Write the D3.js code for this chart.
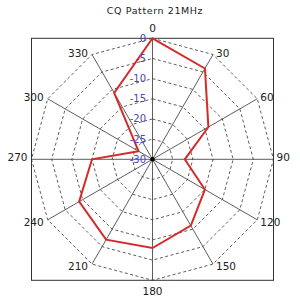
<!DOCTYPE html>
<html>
<head>
<meta charset="utf-8">
<script src="https://cdn.jsdelivr.net/npm/d3@7"></script>
<style>
  html, body { margin: 0; padding: 0; background: #fff; }
  svg { display: block; }
</style>
</head>
<body>
<div id="chart"></div>
<script>
// azimuth of each sample, degrees clockwise from north
const angles = [0, 30, 60, 90, 120, 150, 180, 210, 240, 270, 300, 330];
// relative gain in dB
const gains = [0, -4, -14, -22, -15, -11, -8, -7, -9, -15, -26, -11];
const ringLevels = [0, -5, -10, -15, -20, -25];
const ringLabels = ["0", "-5", "-10", "-15", "-20", "-25", "-30"];
const spokeLabels = ["0", "30", "60", "90", "120", "150", "180", "210", "240", "270", "300", "330"];

const width = 300, height = 300;
const cx = 152.5, cy = 159.3, R = 121;

const r = d3.scaleLinear().domain([-30, 0]).range([0, R]);
const a = d3.scaleLinear().domain([0, 360]).range([0, 2 * Math.PI]);

const px = (deg, rad) => cx + rad * Math.sin(a(deg));
const py = (deg, rad) => cy - rad * Math.cos(a(deg));

const svg = d3.select("#chart").append("svg")
  .attr("width", width)
  .attr("height", height)
  .attr("viewBox", [0, 0, width, height])
  .style("font-family", "'DejaVu Sans', sans-serif");

// title
svg.append("text")
  .attr("x", 155)
  .attr("y", 14)
  .attr("text-anchor", "middle")
  .attr("font-size", 9.5)
  .attr("letter-spacing", 0.6)
  .attr("fill", "#222")
  .text("CQ Pattern 21MHz");

// frame
svg.append("rect")
  .attr("x", cx - R)
  .attr("y", cy - R)
  .attr("width", 2 * R)
  .attr("height", 2 * R)
  .attr("fill", "none")
  .attr("stroke", "#333")
  .attr("stroke-width", 1);

// dashed rings (polygons through the spokes)
const ringLine = d3.lineRadial()
  .angle(d => a(d[0]))
  .radius(d => r(d[1]))
  .curve(d3.curveLinearClosed);

const g = svg.append("g").attr("transform", `translate(${cx},${cy})`);

g.selectAll("path.ring")
  .data(ringLevels)
  .join("path")
  .attr("class", "ring")
  .attr("d", lvl => ringLine(angles.map(t => [t, lvl])))
  .attr("fill", "none")
  .attr("stroke", "#333")
  .attr("stroke-width", 0.8)
  .attr("stroke-dasharray", "3,2.5");

// spokes
g.selectAll("line.spoke")
  .data(angles)
  .join("line")
  .attr("class", "spoke")
  .attr("x1", 0).attr("y1", 0)
  .attr("x2", d => R * Math.sin(a(d)))
  .attr("y2", d => -R * Math.cos(a(d)))
  .attr("stroke", "#333")
  .attr("stroke-width", 0.8);

// pattern trace
g.append("path")
  .attr("d", ringLine(angles.map((t, i) => [t, gains[i]])))
  .attr("fill", "none")
  .attr("stroke", "#d42a2a")
  .attr("stroke-width", 2)
  .attr("stroke-linejoin", "miter");

// center dot
g.append("circle").attr("r", 2.2).attr("fill", "#000");

// ring labels
svg.selectAll("text.rl")
  .data(ringLabels)
  .join("text")
  .attr("class", "rl")
  .attr("x", 146)
  .attr("y", (d, i) => cy - r(-5 * i))
  .attr("dy", "0.35em")
  .attr("text-anchor", "end")
  .attr("font-size", 10)
  .attr("fill", "#4848b8")
  .text(d => d);

// angle labels
svg.selectAll("text.al")
  .data(angles)
  .join("text")
  .attr("class", "al")
  .attr("x", d => {
    const x = px(d, R);
    if (d === 0 || d === 180) return x;
    return d < 180 ? x + 3 : x - 4;
  })
  .attr("y", d => {
    const y = py(d, R);
    if (d === 0) return y - 10;
    if (d === 180) return y + 11;
    return y + (d > 90 && d < 270 ? 2.5 : -1.5);
  })
  .attr("dy", "0.35em")
  .attr("text-anchor", d => (d === 0 || d === 180) ? "middle" : (d < 180 ? "start" : "end"))
  .attr("font-size", 10.5)
  .attr("fill", "#222")
  .text((d, i) => spokeLabels[i]);
</script>
</body>
</html>
